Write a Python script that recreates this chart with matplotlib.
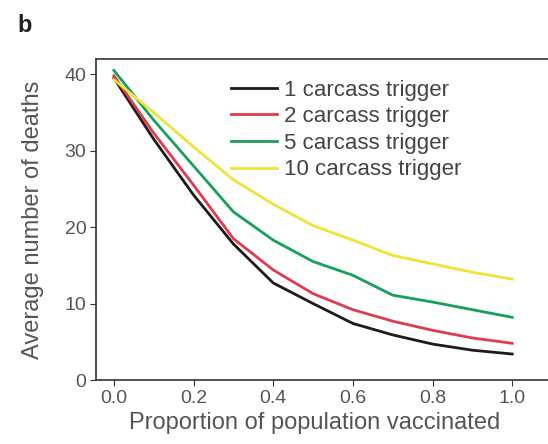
import numpy as np
import matplotlib
matplotlib.use("Agg")
import matplotlib.pyplot as plt

plt.rcParams['font.family'] = ['Liberation Sans', 'DejaVu Sans']

proporcion = [0.0, 0.1, 0.2, 0.3, 0.4, 0.5, 0.6, 0.7, 0.8, 0.9, 1.0]
trigger_1 = [39.5, 31.5, 24.2, 17.8, 12.7, 10.0, 7.4, 5.9, 4.7, 3.9, 3.4]
trigger_2 = [39.8, 32.3, 25.5, 18.5, 14.4, 11.3, 9.2, 7.7, 6.5, 5.5, 4.8]
trigger_5 = [40.5, 34.0, 28.0, 22.0, 18.3, 15.5, 13.7, 11.1, 10.2, 9.2, 8.2]
trigger_10 = [39.3, 35.0, 30.5, 26.2, 23.0, 20.2, 18.3, 16.3, 15.2, 14.1, 13.2]

series = [trigger_1, trigger_2, trigger_5, trigger_10]
etiquetas = ["1 carcass trigger", "2 carcass trigger", "5 carcass trigger", "10 carcass trigger"]
colores = ["#1e1a1c", "#e03a4e", "#17a05a", "#f0e238"]

fig = plt.figure(figsize=(5.48, 4.44), dpi=100)
# eje derecho recortado como en la figura original
ax = fig.add_axes([96 / 548, 64 / 444, 460 / 548, 321 / 444])

for datos, etiqueta, color in zip(series, etiquetas, colores):
    ax.plot(proporcion, datos, color=color, lw=2.0, label=etiqueta)

ax.set_xlim(-0.045, 1.11)
ax.set_ylim(0, 42)
ax.set_xticks([0.0, 0.2, 0.4, 0.6, 0.8, 1.0])
ax.set_yticks([0, 10, 20, 30, 40])
ax.tick_params(labelsize=14, labelcolor="#555555", color="#333333", length=4, pad=3)
for s in ax.spines.values():
    s.set_color("#333333")
    s.set_linewidth(1.2)

ax.set_xlabel("Proportion of population vaccinated", fontsize=17, color="#555555", labelpad=1)
ax.xaxis.set_label_coords(0.476, -0.1)
ax.set_ylabel("Average number of deaths", fontsize=17, color="#555555", labelpad=15)

leg = ax.legend(loc="upper left", bbox_to_anchor=(0.28, 0.955), frameon=False,
                fontsize=16, handlelength=2.05, handletextpad=0.33, labelspacing=0.25,
                labelcolor="#444444", borderaxespad=0.0, borderpad=0.28)

fig.text(17 / 548, 1 - 32 / 444, "b", fontsize=17, fontweight="bold", color="#222222")

fig.savefig("out.png", dpi=100)
